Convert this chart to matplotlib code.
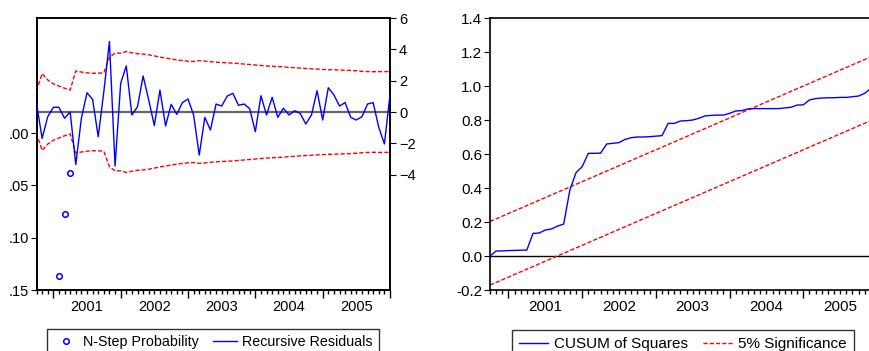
import matplotlib.pyplot as plt
from matplotlib.lines import Line2D
from matplotlib.transforms import blended_transform_factory

plt.rcParams['font.family'] = ['Liberation Sans', 'DejaVu Sans']

# monthly observations, 2000M10 .. 2006M01 (index 0..63)
years = ['2001', '2002', '2003', '2004', '2005']
obs = list(range(64))

resid = [0.55, -1.68, -0.3, 0.3, 0.3, -0.4, 0.0, -3.35, -0.4, 1.23,
         0.81, -1.58, 1.3, 4.5, -3.45, 1.83, 2.94, -0.19, 0.34, 2.3,
         0.77, -0.87, 1.4, -0.89, 0.49, -0.15, 0.6, 0.83, -0.19, -2.75,
         -0.34, -1.15, 0.51, 0.38, 1.02, 1.19, 0.43, 0.51, 0.21, -1.26,
         1.04, -0.19, 0.94, -0.34, 0.24, -0.19, 0.08, -0.09, -0.77, -0.19,
         1.36, -0.51, 1.55, 1.09, 0.38, 0.6, -0.34, -0.51, -0.3, 0.51,
         0.6, -0.98, -2.04, 1.09]

band = [1.35, 2.45, 2.05, 1.8, 1.66, 1.52, 1.4, 2.62, 2.55, 2.5,
        2.47, 2.48, 2.5, 3.5, 3.75, 3.76, 3.86, 3.78, 3.72, 3.7,
        3.65, 3.58, 3.5, 3.45, 3.38, 3.33, 3.28, 3.24, 3.22, 3.28,
        3.25, 3.21, 3.18, 3.16, 3.14, 3.12, 3.09, 3.06, 3.03, 3.0,
        2.97, 2.94, 2.92, 2.9, 2.88, 2.85, 2.83, 2.8, 2.78, 2.76,
        2.74, 2.72, 2.7, 2.7, 2.68, 2.67, 2.65, 2.63, 2.6, 2.58,
        2.57, 2.58, 2.58, 2.58]

prob_obs = [4, 5, 6]
prob = [0.137, 0.077, 0.038]

cusum = [0.0, 0.029, 0.03, 0.032, 0.033, 0.034, 0.035, 0.133, 0.135, 0.153,
         0.159, 0.176, 0.188, 0.388, 0.49, 0.525, 0.604, 0.604, 0.605, 0.659,
         0.663, 0.667, 0.686, 0.696, 0.70, 0.70, 0.702, 0.705, 0.708, 0.78,
         0.78, 0.794, 0.796, 0.80, 0.81, 0.824, 0.827, 0.829, 0.829, 0.839,
         0.853, 0.855, 0.865, 0.867, 0.867, 0.867, 0.867, 0.867, 0.871, 0.875,
         0.888, 0.889, 0.918, 0.926, 0.929, 0.931, 0.931, 0.933, 0.933, 0.937,
         0.941, 0.957, 0.986, 1.0]

sig_obs = [0, 63]
sig_upper = [0.203, 1.187]
sig_lower = [-0.171, 0.812]

W, H = 869, 351
fig = plt.figure(figsize=(W / 100, H / 100), dpi=100)

def box(x0, y0, x1, y1):
    return [x0 / W, 1 - y1 / H, (x1 - x0) / W, (y1 - y0) / H]

def time_axis(ax, fs):
    ax.set_xlim(0, 63)
    ax.set_xticks([3 + 12 * k for k in range(6)])
    ax.set_xticks(obs, minor=True)
    ax.tick_params(axis='x', which='major', length=6, width=1, labelbottom=False)
    ax.tick_params(axis='x', which='minor', length=3, width=1)
    tr = blended_transform_factory(ax.transData, ax.transAxes)
    for k, y in enumerate(years):
        ax.text(9 + 12 * k, -0.035, y, transform=tr, ha='center', va='top', fontsize=fs)
    for s in ax.spines.values():
        s.set_linewidth(1.2)

red = (1, 0, 0)

# left: recursive residuals + N-step probability
ax = fig.add_axes(box(36.5, 18, 390, 290))
ax2 = ax.twinx()
ax.set_ylim(0.15, -0.11)
ax.set_yticks([0, 0.05, 0.10, 0.15], ['.00', '.05', '.10', '.15'])
ax.tick_params(axis='y', length=4, pad=1.5, labelsize=10.5)
ax.plot(prob_obs, prob, ls='none', marker='o', ms=4, mfc='none', mec='blue', mew=1.1, zorder=5)
time_axis(ax, 10.5)

ax2.set_ylim(-11.36, 6)
ax2.set_yticks([-4, -2, 0, 2, 4, 6])
ax2.tick_params(axis='y', length=4, pad=2.5, labelsize=10.5)
ax2.axhline(0, color='#666666', lw=1.6, zorder=1)
ax2.plot(obs, resid, color='blue', lw=1, zorder=3)
ax2.plot(obs, band, color=red, lw=1, dashes=(3, 1.5), zorder=2)
ax2.plot(obs, [-b for b in band], color=red, lw=1, dashes=(3, 1.5), zorder=2)
for s in ax2.spines.values():
    s.set_linewidth(1.2)

h1 = [Line2D([], [], ls='none', marker='o', ms=4, mfc='none', mec='blue', mew=1.1),
      Line2D([], [], color='blue', lw=1)]
leg = fig.legend(h1, ['N-Step Probability', 'Recursive Residuals'], loc='upper left',
                 bbox_to_anchor=(47 / W, 1 - 329 / H), ncol=2, fontsize=10.3,
                 fancybox=False, edgecolor='black', borderaxespad=0, borderpad=0.45,
                 handlelength=1.7, handletextpad=0.35, columnspacing=1.0)
leg.get_frame().set_linewidth(1.0)

# right: CUSUM of squares
bx = fig.add_axes(box(490, 18, 877, 290))
bx.set_ylim(-0.2, 1.4)
bx.set_yticks([-0.2, 0.0, 0.2, 0.4, 0.6, 0.8, 1.0, 1.2, 1.4])
bx.set_yticklabels(['%.1f' % v for v in bx.get_yticks()])
bx.tick_params(axis='y', length=4, pad=1.5, labelsize=11)
bx.axhline(0, color='black', lw=1, zorder=1)
bx.plot(obs, cusum, color='blue', lw=1, zorder=3)
bx.plot(sig_obs, sig_upper, color=red, lw=1, dashes=(3, 1.5), zorder=2)
bx.plot(sig_obs, sig_lower, color=red, lw=1, dashes=(3, 1.5), zorder=2)
time_axis(bx, 11)

h2 = [Line2D([], [], color='blue', lw=1),
      Line2D([], [], color=red, lw=1, dashes=(3, 1.5))]
leg2 = fig.legend(h2, ['CUSUM of Squares', '5% Significance'], loc='upper left',
                  bbox_to_anchor=(512 / W, 1 - 330 / H), ncol=2, fontsize=11,
                  fancybox=False, edgecolor='black', borderaxespad=0, borderpad=0.45,
                  handlelength=1.9, handletextpad=0.4, columnspacing=1.0)
leg2.get_frame().set_linewidth(1.0)

fig.savefig('out.png', dpi=100)
